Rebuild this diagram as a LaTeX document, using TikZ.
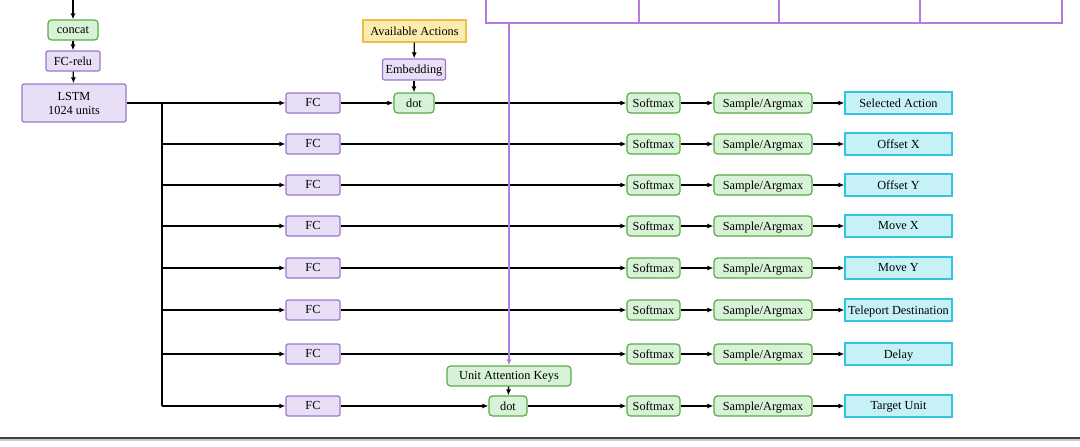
\documentclass[tikz,border=0pt]{standalone}
\usepackage{fontspec}
\setmainfont{Liberation Serif}
\usetikzlibrary{arrows.meta,calc}
\definecolor{gfill}{HTML}{D8F2D8}
\definecolor{gdraw}{HTML}{5AAB46}
\definecolor{pfill}{HTML}{E8DEF6}
\definecolor{pdraw}{HTML}{9A78CC}
\definecolor{yfill}{HTML}{FDEBAE}
\definecolor{ydraw}{HTML}{E8C244}
\definecolor{cfill}{HTML}{C6F2F7}
\definecolor{cdraw}{HTML}{33C4E0}
\definecolor{pline}{HTML}{B57AE0}
\tikzset{
  box/.style={draw, line width=1.2pt, inner sep=0pt, font=\fontsize{12.3}{14}\selectfont, align=center, text depth=0.5pt},
  gbox/.style={box, fill=gfill, draw=gdraw, rounded corners=3.5pt},
  pbox/.style={box, fill=pfill, draw=pdraw, rounded corners=2pt},
  ybox/.style={box, fill=yfill, draw=ydraw},
  cbox/.style={box, fill=cfill, draw=cdraw},
  arr/.style={line width=1.3pt, -{Latex[length=6pt,width=5pt]}},
  ln/.style={line width=1.3pt},
}
\begin{document}
\begin{tikzpicture}[x=1pt,y=-1pt]
\useasboundingbox (0,0) rectangle (1080,447);
% top purple box
\draw[pline, line width=1.3pt] (486,-5) -- (486,23) -- (1062,23) -- (1062,-5);
\foreach \xx in {639,779,920} \draw[pline, line width=1.3pt] (\xx,-5) -- (\xx,23);
\coordinate (ptop) at (509,23);
\coordinate (intop) at (73,-2);
% left chain
\node[gbox, minimum width=50pt, minimum height=20pt] (concat) at (73,30) {concat};
\node[pbox, minimum width=54pt, minimum height=20pt] (fcrelu) at (73,61) {FC-relu};
\node[pbox, minimum width=104pt, minimum height=38pt, text depth=0pt] (lstm) at (74,103) {LSTM\\[0pt]1024 units};
\draw[arr] (intop) -- (concat);
\draw[arr] (concat) -- (fcrelu);
\draw[arr] (fcrelu) -- (lstm);
% available actions
\node[ybox, minimum width=103pt, minimum height=22pt] (avail) at (414.5,31) {Available Actions};
\node[pbox, minimum width=63pt, minimum height=21pt] (emb) at (414,69.5) {Embedding};
\node[gbox, minimum width=40pt, minimum height=20pt] (dotA) at (414,103) {dot};
\draw[arr] (avail) -- (emb);
\draw[arr] (emb) -- (dotA);
% unit attention
\node[gbox, minimum width=124pt, minimum height=20pt] (uak) at (509,376) {Unit Attention Keys};
\node[gbox, minimum width=38pt, minimum height=20pt] (dotB) at (508,406) {dot};
\draw[arr] (uak) -- (dotB);
% rows
\coordinate (trunk) at (162,103);
\coordinate (trunkend) at (162,406);
\draw[ln] (trunk) -- (trunkend);
\foreach \i/\yy/\lab in {1/103/Selected Action,2/144/Offset X,3/185/Offset Y,4/226/Move X,5/268/Move Y,6/310/Teleport Destination,7/354/Delay,8/406/Target Unit}{
  \node[pbox, minimum width=54pt, minimum height=20pt] (fc\i) at (313,\yy) {FC};
  \node[gbox, minimum width=53pt, minimum height=20pt] (sm\i) at (653.5,\yy) {Softmax};
  \node[gbox, minimum width=98pt, minimum height=20pt] (sa\i) at (763,\yy) {Sample/Argmax};
  \node[cbox, minimum width=107pt, minimum height=22pt] (out\i) at (898.5,\yy) {\lab};
  \coordinate (br\i) at (162,\yy);
  \draw[arr] (sm\i) -- (sa\i);
  \draw[arr] (sa\i) -- (out\i);
}
\draw[arr] (lstm.east |- fc1) -- (fc1);
\foreach \i in {2,...,8} \draw[arr] (br\i) -- (fc\i);
\foreach \i in {2,...,7} \draw[arr] (fc\i) -- (sm\i);
\draw[arr] (fc1) -- (dotA);
\draw[arr] (dotA) -- (sm1);
\draw[arr] (fc8) -- (dotB);
\draw[arr] (dotB) -- (sm8);
% purple line to unit attention keys
\draw[pline, line width=1.5pt, -{Latex[length=6pt,width=5pt]}] (ptop) -- (uak.north -| ptop);
% bottom rule
\coordinate (bl) at (0,438);
\coordinate (br) at (1080,438);
\draw[black!20, line width=3pt] ($(bl)+(0,1.8)$) -- ($(br)+(0,1.8)$);
\draw[black!75, line width=1.8pt] (bl) -- (br);
\end{tikzpicture}
\end{document}
